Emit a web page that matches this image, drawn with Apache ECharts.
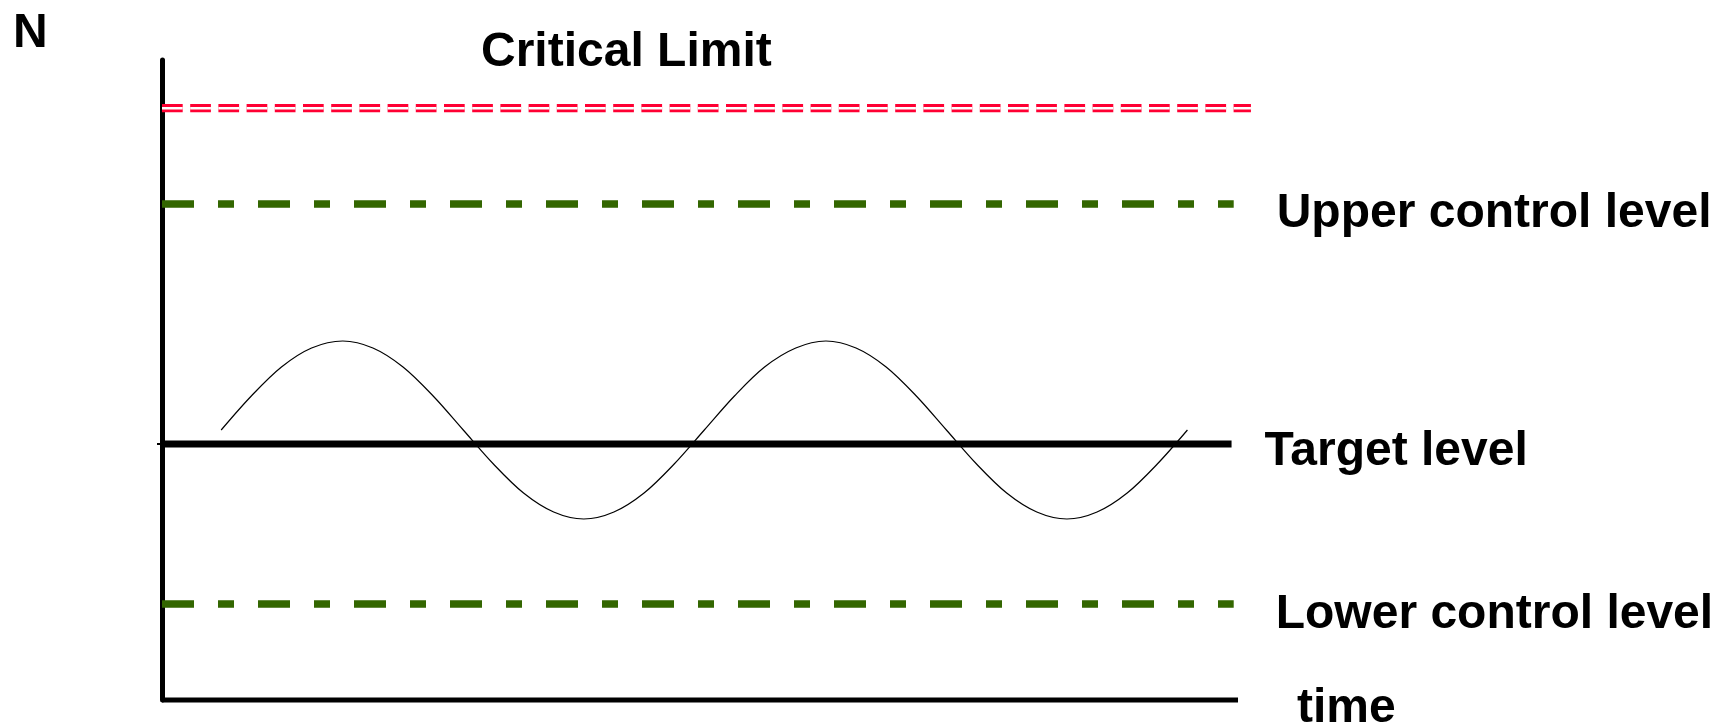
<!DOCTYPE html>
<html>
<head>
<meta charset="utf-8">
<script src="https://cdn.jsdelivr.net/npm/echarts@6/dist/echarts.min.js"></script>
<style>
  html, body { margin: 0; padding: 0; background: #fff; }
  #chart { width: 1736px; height: 722px; }
</style>
</head>
<body>
<div id="chart"></div>
<script>
// ---- data (arbitrary units) ----
const waveX = [5.5, 8.3, 11.1, 13.9, 16.8, 19.6, 22.4, 25.2, 28.0, 30.8, 33.6, 36.4, 39.2, 42.0, 44.8, 47.6,
               50.4, 53.2, 56.0, 58.9, 61.7, 64.5, 67.3, 70.1, 72.9, 75.7, 78.5, 81.3, 84.1, 86.9, 89.7, 92.5, 95.3];
const waveY = [27.0, 30.4, 33.3, 35.2, 35.9, 35.2, 33.3, 30.4, 27.0, 23.6, 20.7, 18.8, 18.1, 18.8, 20.7, 23.6,
               27.0, 30.4, 33.3, 35.2, 35.9, 35.2, 33.3, 30.4, 27.0, 23.6, 20.7, 18.8, 18.1, 18.8, 20.7, 23.6, 27.0];
const levelNames  = ['Critical Limit', 'Upper control level', 'Target level', 'Lower control level'];
const levelValues = [59.18, 49.6, 25.6, 9.6];
const levelEnds   = [101.2, 99.6, 99.4, 99.6];
const timeAxisEnd = 100;
const yAxisName = 'N';
const xAxisName = 'time';

const FONT = 'Liberation Sans, Arial, Helvetica, sans-serif';
const labelStyle = { fontSize: 48, fontWeight: 'bold', fontFamily: FONT, color: '#000' };

function hLine(name, y, xEnd, lineStyle, extra) {
  return Object.assign({
    type: 'line',
    name: name,
    data: [[0, y], [xEnd, y]],
    symbol: 'none',
    clip: false,
    silent: true,
    lineStyle: lineStyle
  }, extra || {});
}

const chart = echarts.init(document.getElementById('chart'), null, { renderer: 'canvas' });
chart.setOption({
  animation: false,
  backgroundColor: '#fff',
  grid: { left: 162, right: 484, top: 60, bottom: 22, containLabel: false },
  xAxis: {
    type: 'value', min: 0, max: 101.3,
    axisLine: { show: false },
    axisTick: { show: false }, axisLabel: { show: false }, splitLine: { show: false }
  },
  yAxis: {
    type: 'value', min: 0, max: 64,
    axisLine: { show: true, lineStyle: { color: '#000', width: 5 } },
    axisTick: { show: true, customValues: [levelValues[2]], length: 5, lineStyle: { color: '#000', width: 2 } },
    axisLabel: { show: false }, splitLine: { show: false }
  },
  graphic: [
    { type: 'text', left: 13, top: 10, style: { text: yAxisName, font: 'bold 48px ' + FONT, fill: '#000' } },
    { type: 'text', left: 481, top: 29, style: { text: levelNames[0], font: 'bold 48px ' + FONT, fill: '#000' } }
  ],
  series: [
    // time axis (baseline)
    hLine(xAxisName, 0, timeAxisEnd, { color: '#000', width: 5, type: 'solid', cap: 'butt' },
      { endLabel: Object.assign({ show: true, formatter: xAxisName, distance: 59, offset: [0, 9] }, labelStyle) }),
    // critical limit: red double dashed line (red stroke with a white core)
    hLine(levelNames[0], levelValues[0], levelEnds[0], { color: '#ff0033', width: 8.3, type: [20.7, 7.5], cap: 'butt' }),
    hLine('critical-core', levelValues[0], levelEnds[0], { color: '#ffffff', width: 2.4, type: [20.7, 7.5], cap: 'butt' }),
    hLine(levelNames[1], levelValues[1], levelEnds[1], { color: '#336600', width: 7.6, type: [32, 24, 16, 24], cap: 'butt' },
      { endLabel: Object.assign({ show: true, formatter: levelNames[1], distance: 43, offset: [0, 10] }, labelStyle) }),
    hLine(levelNames[3], levelValues[3], levelEnds[3], { color: '#336600', width: 7.6, type: [32, 24, 16, 24], cap: 'butt' },
      { endLabel: Object.assign({ show: true, formatter: levelNames[3], distance: 42, offset: [0, 11] }, labelStyle) }),
    {
      type: 'line', name: 'N(t)',
      data: waveX.map((x, i) => [x, waveY[i]]),
      smooth: 0.33, symbol: 'none', silent: true, clip: false,
      lineStyle: { color: '#000', width: 1.2 }
    },
    hLine(levelNames[2], levelValues[2], levelEnds[2], { color: '#000', width: 7, type: 'solid', cap: 'butt' },
      { endLabel: Object.assign({ show: true, formatter: levelNames[2], distance: 33, offset: [0, 8] }, labelStyle) })
  ]
});
</script>
</body>
</html>
